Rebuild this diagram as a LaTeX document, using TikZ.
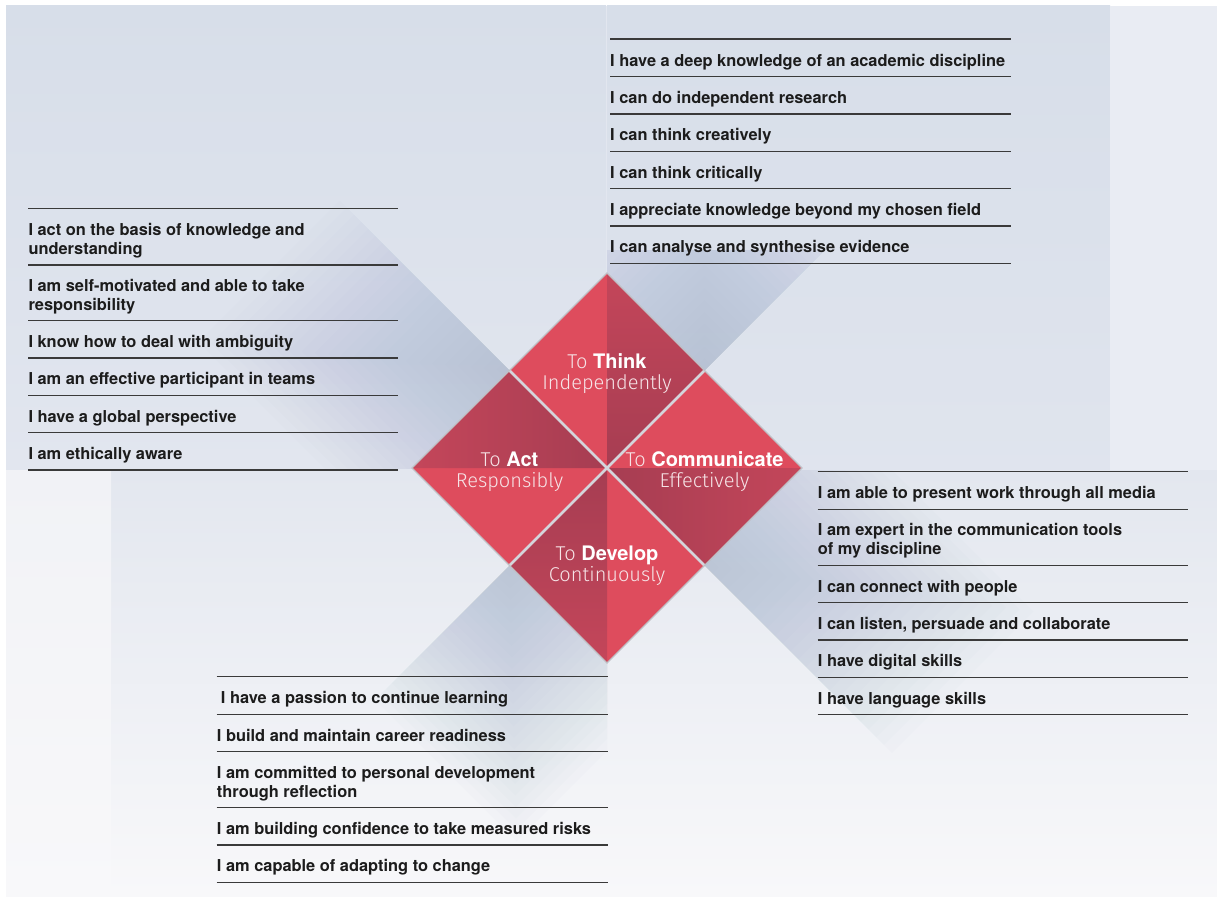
\documentclass[tikz,border=0pt]{standalone}
\usepackage{fontspec}
\setmainfont{TeX Gyre Heros}
\newfontfamily\lightf{Fira Sans Light}
\definecolor{bgA}{HTML}{D7DEE9}
\definecolor{bgA2}{HTML}{E2E6EF}
\definecolor{bgR}{HTML}{E9ECF3}
\definecolor{bgB}{HTML}{E3E7EF}
\definecolor{bgB2}{HTML}{F8F8FA}
\definecolor{bgS}{HTML}{F1F2F6}
\definecolor{redL}{HTML}{DE4C5D}
\definecolor{redD1}{HTML}{C4465A}
\definecolor{redD2}{HTML}{A63D52}
\definecolor{shad}{HTML}{A3B2CC}
\definecolor{rulec}{HTML}{3A3A3A}
\definecolor{ink}{HTML}{1C1C1C}
\definecolor{edgec}{HTML}{D4D5DB}
\definecolor{lightw}{HTML}{F6E4E7}
\newcommand{\twoline}[2]{\parbox[t]{420pt}{#1\\#2}}
\newcommand{\ttl}[2]{\parbox[t]{220pt}{\leavevmode\centering #1\\#2}}
% soft shadow: corner (#1,#2), hard edge along (#3,#4), spread along (#5,#6), lengths #7 and #8
\newcommand{\shadowfan}[8]{%
  \foreach \k in {1,...,24} {
    \pgfmathsetmacro\la{#7*\k/24}
    \pgfmathsetmacro\lb{#8*\k/24}
    \fill[shadowlayer] (#1,#2) -- ({#1+\la*#3},{#2+\la*#4}) -- ({#1+\la*#3+\lb*#5},{#2+\la*#4+\lb*#6}) -- ({#1+\lb*#5},{#2+\lb*#6}) -- cycle;
  }}
\begin{document}
\begin{tikzpicture}[x=1pt,y=-1pt,
  item/.style={anchor=base west, inner sep=0pt, text=ink, font=\bfseries\fontsize{16.4}{19}\selectfont},
  sep/.style={draw=rulec, line width=1.2pt},
  dtitle/.style={anchor=base, inner sep=0pt, text=white, font=\fontsize{20}{21}\selectfont},
  shadowlayer/.style={fill=shad, fill opacity=0.0327}]
\useasboundingbox (0,0) rectangle (1217,899);
\fill[white] (0,0) rectangle (1217,899);
% background panels
\shade[top color=bgA, bottom color=bgA2] (6,6) rectangle (606,470);
\fill[bgA2] (606,6) rectangle (607,470);
\shade[top color=bgA, bottom color=bgA2!80!bgA] (607,6) rectangle (1110,470);
\fill[bgR] (1110,6) rectangle (1217,470);
\shade[top color=bgB, bottom color=bgB2] (111,470) rectangle (1217,896);
\shade[top color=bgS, bottom color=bgB2] (6,470) rectangle (111,896);
% shadows cast by the diamond
\begin{scope}
  \clip (0,0) rectangle (607,468);
  \shadowfan{509.5}{370.5}{-0.7071}{-0.7071}{-0.7071}{0.7071}{240}{200}
\end{scope}
\begin{scope}
  \clip (607,250) rectangle (1217,468);
  \shadowfan{704.5}{370.5}{0.7071}{-0.7071}{-0.7071}{-0.7071}{200}{200}
\end{scope}
\begin{scope}
  \clip (0,468) rectangle (607,899);
  \shadowfan{509.5}{565.5}{-0.7071}{0.7071}{0.7071}{0.7071}{190}{200}
\end{scope}
\begin{scope}
  \clip (607,470) rectangle (1217,899);
  \shadowfan{704.5}{565.5}{0.7071}{0.7071}{0.7071}{-0.7071}{265}{200}
\end{scope}
% diamond: Think
\fill[redL] (607,273) -- (509.5,370.5) -- (607,468) -- cycle;
\shade[top color=redD1, bottom color=redD2] (607,273) -- (704.5,370.5) -- (607,468) -- cycle;
% Act
\fill[redL] (412,468) -- (607,468) -- (509.5,565.5) -- cycle;
\shade[left color=redD1, right color=redD2] (412,468) -- (509.5,370.5) -- (607,468) -- cycle;
% Communicate
\fill[redL] (607,468) -- (704.5,370.5) -- (802,468) -- cycle;
\shade[left color=redD2, right color=redD1] (607,468) -- (802,468) -- (704.5,565.5) -- cycle;
% Develop
\fill[redL] (607,468) -- (704.5,565.5) -- (607,663) -- cycle;
\shade[top color=redD2, bottom color=redD1] (607,468) -- (607,663) -- (509.5,565.5) -- cycle;
% separators in diamond
\draw[edgec, line width=2.6pt] (509.5,370.5) -- (704.5,565.5);
\draw[edgec, line width=2.6pt] (704.5,370.5) -- (509.5,565.5);
\draw[edgec!90!black, line width=1.2pt, line join=miter] (607,273) -- (802,468) -- (607,663) -- (412,468) -- cycle;
% diamond titles
\node[dtitle] (think) at (607,368) {\ttl{{\lightf\color{lightw}To} \textbf{Think}}{{\lightf\color{lightw}Independently}}};
\node[dtitle] (act) at (509.5,466.5) {\ttl{{\lightf\color{lightw}To} \textbf{Act}}{{\lightf\color{lightw}Responsibly}}};
\node[dtitle] (comm) at (704.5,466.5) {\ttl{{\lightf\color{lightw}To} \textbf{Communicate}}{{\lightf\color{lightw}Effectively}}};
\node[dtitle] (dev) at (607,560) {\ttl{{\lightf\color{lightw}To} \textbf{Develop}}{{\lightf\color{lightw}Continuously}}};
% left list (Act)
\foreach \y in {208.3,265,320.7,358,395.3,432.5,470} \draw[sep] (28.3,\y) -- (398.3,\y);
\node[item] (a1) at (28.3,235.5) {\twoline{I act on the basis of knowledge and}{understanding}};
\node[item] (a2) at (28.3,291.2) {\twoline{I am self-motivated and able to take}{responsibility}};
\node[item] (a3) at (28.3,347.5) {I know how to deal with ambiguity};
\node[item] (a4) at (28.3,384.8) {I am an effective participant in teams};
\node[item] (a5) at (28.3,422) {I have a global perspective};
\node[item] (a6) at (28.3,459.5) {I am ethically aware};
% top list (Think)
\foreach \y in {39,76.7,114,151.3,188.7,226,263.3} \draw[sep] (610,\y) -- (1010.7,\y);
\node[item] (t1) at (610,66.2) {I have a deep knowledge of an academic discipline};
\node[item] (t2) at (610,103.5) {I can do independent research};
\node[item] (t3) at (610,140.8) {I can think creatively};
\node[item] (t4) at (610,178.2) {I can think critically};
\node[item] (t5) at (610,215.5) {I appreciate knowledge beyond my chosen field};
\node[item] (t6) at (610,252.8) {I can analyse and synthesise evidence};
% right list (Communicate)
\foreach \y in {471.7,509.3,565.3,602.7,640,677.3,714.7} \draw[sep] (817.7,\y) -- (1188.3,\y);
\node[item] (c1) at (817.7,498.8) {I am able to present work through all media};
\node[item] (c2) at (817.7,535.8) {\twoline{I am expert in the communication tools}{of my discipline}};
\node[item] (c3) at (817.7,592.2) {I can connect with people};
\node[item] (c4) at (817.7,629.5) {I can listen, persuade and collaborate};
\node[item] (c5) at (817.7,666.8) {I have digital skills};
\node[item] (c6) at (817.7,704.2) {I have language skills};
% bottom list (Develop)
\foreach \y in {676.7,714.3,751.7,807.7,845,882.3} \draw[sep] (216.7,\y) -- (608.3,\y);
\node[item] (d1) at (220.7,703.8) {I have a passion to continue learning};
\node[item] (d2) at (216.7,741.2) {I build and maintain career readiness};
\node[item] (d3) at (216.7,778.2) {\twoline{I am committed to personal development}{through reflection}};
\node[item] (d4) at (216.7,834.5) {I am building confidence to take measured risks};
\node[item] (d5) at (216.7,871.8) {I am capable of adapting to change};
\end{tikzpicture}
\end{document}
